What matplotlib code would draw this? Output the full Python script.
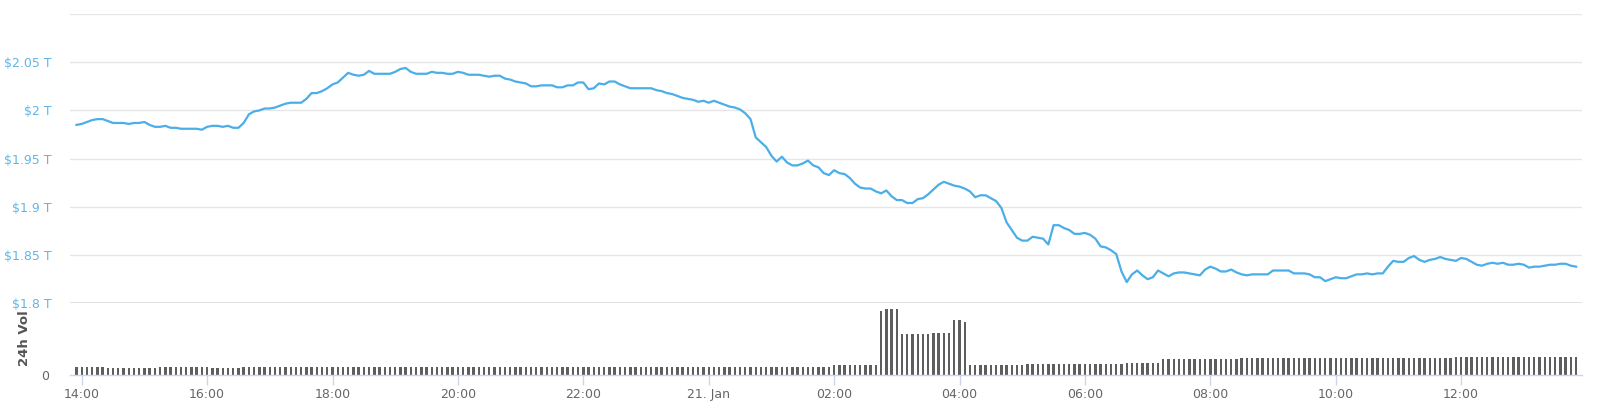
import numpy as np
import pandas as pd
import matplotlib
matplotlib.use("Agg")
import matplotlib.pyplot as plt

# total market cap in trillions USD, one reading every 5 minutes from 13:55 on 20 Jan
cap = [
    1.985, 1.986, 1.988, 1.990, 1.991, 1.991, 1.989, 1.987, 1.987, 1.987,
    1.986, 1.987, 1.987, 1.988, 1.985, 1.983, 1.983, 1.984, 1.982, 1.982,
    1.981, 1.981, 1.981, 1.981, 1.980, 1.983, 1.984, 1.984, 1.983, 1.984,
    1.982, 1.982, 1.987, 1.996, 1.999, 2.000, 2.002, 2.002, 2.003, 2.005,
    2.007, 2.008, 2.008, 2.008, 2.012, 2.018, 2.018, 2.020, 2.023, 2.027,
    2.029, 2.034, 2.039, 2.037, 2.036, 2.037, 2.041, 2.038, 2.038, 2.038,
    2.038, 2.040, 2.043, 2.044, 2.040, 2.038, 2.038, 2.038, 2.040, 2.039,
    2.039, 2.038, 2.038, 2.040, 2.039, 2.037, 2.037, 2.037, 2.036, 2.035,
    2.036, 2.036, 2.033, 2.032, 2.030, 2.029, 2.028, 2.025, 2.025, 2.026,
    2.026, 2.026, 2.024, 2.024, 2.026, 2.026, 2.029, 2.029, 2.022, 2.023,
    2.028, 2.027, 2.030, 2.030, 2.027, 2.025, 2.023, 2.023, 2.023, 2.023,
    2.023, 2.021, 2.020, 2.018, 2.017, 2.015, 2.013, 2.012, 2.011, 2.009,
    2.010, 2.008, 2.010, 2.008, 2.006, 2.004, 2.003, 2.001, 1.997, 1.991,
    1.972, 1.967, 1.962, 1.953, 1.947, 1.952, 1.946, 1.943, 1.943, 1.945,
    1.948, 1.943, 1.941, 1.935, 1.933, 1.938, 1.935, 1.934, 1.930, 1.924,
    1.920, 1.919, 1.919, 1.916, 1.914, 1.917, 1.911, 1.907, 1.907, 1.904,
    1.904, 1.908, 1.909, 1.913, 1.918, 1.923, 1.926, 1.924, 1.922, 1.921,
    1.919, 1.916, 1.910, 1.912, 1.912, 1.909, 1.906, 1.899, 1.884, 1.876,
    1.868, 1.865, 1.865, 1.869, 1.868, 1.867, 1.861, 1.881, 1.881, 1.878,
    1.876, 1.872, 1.872, 1.873, 1.871, 1.867, 1.859, 1.858, 1.855, 1.851,
    1.833, 1.822, 1.830, 1.834, 1.829, 1.825, 1.827, 1.834, 1.831, 1.828,
    1.831, 1.832, 1.832, 1.831, 1.830, 1.829, 1.835, 1.838, 1.836, 1.833,
    1.833, 1.835, 1.832, 1.830, 1.829, 1.830, 1.830, 1.830, 1.830, 1.834,
    1.834, 1.834, 1.834, 1.831, 1.831, 1.831, 1.830, 1.827, 1.827, 1.823,
    1.825, 1.827, 1.826, 1.826, 1.828, 1.830, 1.830, 1.831, 1.830, 1.831,
    1.831, 1.838, 1.844, 1.843, 1.843, 1.847, 1.849, 1.845, 1.843, 1.845,
    1.846, 1.848, 1.846, 1.845, 1.844, 1.847, 1.846, 1.843, 1.840, 1.839,
    1.841, 1.842, 1.841, 1.842, 1.840, 1.840, 1.841, 1.840, 1.837, 1.838,
    1.838, 1.839, 1.840, 1.840, 1.841, 1.841, 1.839, 1.838,
]

# 24h volume bars (billions USD), same 5 minute steps: level and how many bars in a row
vol_levels = [77, 70, 77, 70, 77, 97, 643, 657, 407, 420, 550, 533, 97, 110, 120, 157, 167, 180]
vol_counts = [6, 10, 10, 6, 113, 9, 1, 3, 6, 4, 2, 1, 11, 19, 7, 15, 41, 24]

price_ticks = [1.8, 1.85, 1.9, 1.95, 2.0, 2.05, 2.1]
price_labels = ["$1.8 T", "$1.85 T", "$1.9 T", "$1.95 T", "$2 T", "$2.05 T", ""]
x_labels = ["14:00", "16:00", "18:00", "20:00", "22:00", "21. Jan",
            "02:00", "04:00", "06:00", "08:00", "10:00", "12:00"]

times = pd.date_range("2022-01-20 13:55", periods=len(cap), freq="5min")
vol = np.repeat(vol_levels, vol_counts)
x_ticks = pd.date_range("2022-01-20 14:00", periods=len(x_labels), freq="2h")
x_start = pd.Timestamp("2022-01-20 13:48:48")
x_end = pd.Timestamp("2022-01-21 13:55:40")

W, H = 1600, 419
fig = plt.figure(figsize=(W / 100, H / 100), dpi=100)
left, right = 70, 1582

# price pane
ax = fig.add_axes([left / W, 1 - 303.3 / H, (right - left) / W, (303.3 - 14) / H])
ax.plot(times, cap, color="#4aaee8", lw=1.6, solid_joinstyle="round")
ax.set_ylim(1.8, 2.1)
ax.set_xlim(x_start, x_end)
ax.set_yticks(price_ticks)
ax.set_yticklabels(price_labels)
ax.grid(axis="y", color="#e6e6e6", lw=1)
ax.axhline(1.8, color="#d9d9d9", lw=1.8)
ax.tick_params(axis="y", length=0, pad=13, labelcolor="#5db6e8", labelsize=9)
ax.tick_params(axis="x", bottom=False, labelbottom=False)
for s in ax.spines.values():
    s.set_visible(False)

# volume pane
axv = fig.add_axes([left / W, 1 - 375 / H, (right - left) / W, (375 - 303.3) / H])
axv.bar(times, vol, width=2.3 / 1440, color="#5e5e5e", align="center")
axv.set_xlim(x_start, x_end)
axv.set_ylim(0, 717)
axv.set_yticks([0])
axv.set_yticklabels(["0"])
axv.tick_params(axis="y", length=0, pad=15, labelcolor="#666666", labelsize=9)
axv.set_xticks(x_ticks)
axv.set_xticklabels(x_labels)
axv.tick_params(axis="x", length=7.5, width=1, color="#ccd6eb", pad=1.5,
                labelcolor="#666666", labelsize=9)
for name, s in axv.spines.items():
    s.set_visible(name == "bottom")
axv.spines["bottom"].set_color("#ccd6eb")
axv.spines["bottom"].set_linewidth(1)

fig.text(25 / W, 1 - 338 / H, "24h Vol", rotation=90, ha="center", va="center",
         fontsize=9.5, fontweight="bold", color="#555555")

fig.savefig("out.png", dpi=100)
